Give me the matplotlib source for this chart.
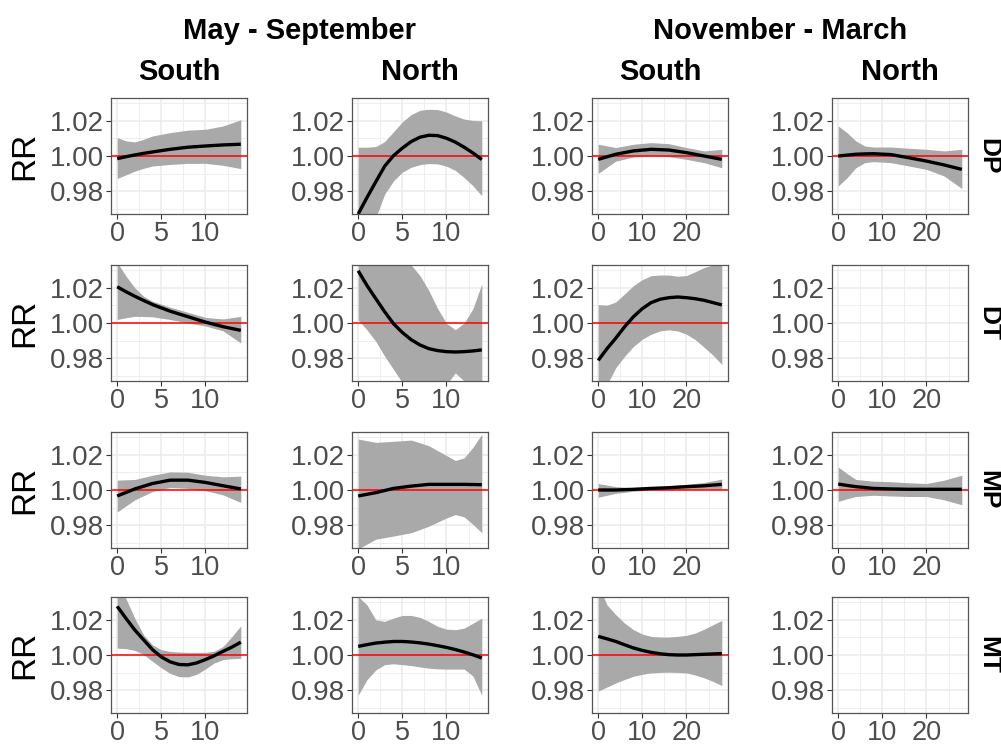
import matplotlib
matplotlib.use("Agg")
import matplotlib.pyplot as plt
from matplotlib.ticker import FixedLocator

plt.rcParams['font.family'] = ['Liberation Sans', 'DejaVu Sans']

# ---------------- data ----------------
seasons = ["May - September", "November - March"]
regions = ["South", "North"]
variables = ["DP", "DT", "MP", "MT"]
ms_xticks = [0, 5, 10]
nm_xticks = [0, 10, 20]
y_ticks = [0.98, 1.00, 1.02]
y_tick_labels = ["0.98", "1.00", "1.02"]

# DP, May-Sep, South
dp_ms_s_x = [0, 1, 2, 3, 4, 6, 8, 10, 12, 14]
dp_ms_s_fit = [0.9985, 0.9996, 1.0006, 1.0015, 1.0023, 1.0038, 1.0050, 1.0057, 1.0063, 1.0067]
dp_ms_s_hi = [1.0105, 1.0086, 1.0080, 1.0095, 1.0114, 1.0133, 1.0147, 1.0152, 1.0171, 1.0206]
dp_ms_s_lo = [0.9872, 0.9893, 0.9914, 0.9930, 0.9943, 0.9952, 0.9958, 0.9958, 0.9947, 0.9928]

# DP, May-Sep, North
dp_ms_n_x = [0, 1, 2, 3, 4, 5, 6, 7, 8, 9, 10, 11, 12, 13, 14]
dp_ms_n_fit = [0.9670, 0.9764, 0.9854, 0.9942, 1.0002, 1.0045, 1.0082, 1.0107, 1.0118, 1.0116, 1.0101, 1.0079, 1.0050, 1.0017, 0.9980]
dp_ms_n_hi = [1.0050, 1.0050, 1.0054, 1.0082, 1.0138, 1.0194, 1.0236, 1.0260, 1.0266, 1.0264, 1.0250, 1.0228, 1.0210, 1.0202, 1.0200]
dp_ms_n_lo = [0.9440, 0.9550, 0.9650, 0.9783, 0.9858, 0.9908, 0.9936, 0.9951, 0.9957, 0.9955, 0.9942, 0.9918, 0.9877, 0.9830, 0.9774]

# DP, Nov-Mar, South
dp_nm_s_x = [0, 4, 8, 12, 16, 20, 24, 28]
dp_nm_s_fit = [0.9981, 1.0010, 1.0029, 1.0038, 1.0034, 1.0019, 1.0000, 0.9981]
dp_nm_s_hi = [1.0067, 1.0048, 1.0067, 1.0076, 1.0070, 1.0048, 1.0029, 1.0038]
dp_nm_s_lo = [0.9901, 0.9971, 0.9994, 1.0000, 0.9996, 0.9981, 0.9962, 0.9933]

# DP, Nov-Mar, North
dp_nm_n_x = [0, 2, 4, 6, 8, 12, 16, 20, 24, 28]
dp_nm_n_fit = [1.0000, 1.0005, 1.0010, 1.0012, 1.0013, 1.0008, 0.9990, 0.9971, 0.9949, 0.9924]
dp_nm_n_hi = [1.0171, 1.0133, 1.0086, 1.0057, 1.0051, 1.0051, 1.0044, 1.0038, 1.0029, 1.0038]
dp_nm_n_lo = [0.9829, 0.9876, 0.9933, 0.9962, 0.9968, 0.9962, 0.9943, 0.9924, 0.9886, 0.9815]

# DT, May-Sep, South
dt_ms_s_x = [0, 1, 2, 3, 4, 6, 8, 10, 12, 14]
dt_ms_s_fit = [1.0206, 1.0178, 1.0152, 1.0128, 1.0105, 1.0067, 1.0036, 1.0005, 0.9979, 0.9958]
dt_ms_s_hi = [1.0345, 1.0267, 1.0200, 1.0152, 1.0124, 1.0090, 1.0061, 1.0032, 1.0023, 1.0038]
dt_ms_s_lo = [1.0020, 1.0030, 1.0038, 1.0037, 1.0035, 1.0020, 1.0000, 0.9983, 0.9955, 0.9886]

# DT, May-Sep, North
dt_ms_n_x = [0, 1, 2, 3, 4, 5, 6, 7, 8, 9, 10, 11, 12, 13, 14]
dt_ms_n_fit = [1.0297, 1.0213, 1.0138, 1.0064, 0.9996, 0.9946, 0.9905, 0.9875, 0.9854, 0.9843, 0.9837, 0.9835, 0.9837, 0.9841, 0.9847]
dt_ms_n_hi = [1.0400, 1.0420, 1.0430, 1.0430, 1.0410, 1.0370, 1.0330, 1.0269, 1.0185, 1.0082, 0.9998, 0.9962, 1.0000, 1.0082, 1.0223]
dt_ms_n_lo = [1.0017, 0.9961, 0.9895, 0.9811, 0.9736, 0.9660, 0.9580, 0.9530, 0.9520, 0.9570, 0.9650, 0.9716, 0.9670, 0.9580, 0.9470]

# DT, Nov-Mar, South
dt_nm_s_x = [0, 2, 4, 6, 8, 10, 12, 14, 16, 18, 20, 22, 24, 26, 28]
dt_nm_s_fit = [0.9787, 0.9854, 0.9914, 0.9979, 1.0036, 1.0082, 1.0116, 1.0135, 1.0144, 1.0148, 1.0144, 1.0138, 1.0129, 1.0116, 1.0103]
dt_nm_s_hi = [1.0105, 1.0101, 1.0120, 1.0166, 1.0213, 1.0247, 1.0269, 1.0273, 1.0273, 1.0266, 1.0270, 1.0292, 1.0316, 1.0330, 1.0344]
dt_nm_s_lo = [0.9550, 0.9650, 0.9746, 0.9811, 0.9867, 0.9908, 0.9936, 0.9955, 0.9961, 0.9955, 0.9936, 0.9905, 0.9862, 0.9817, 0.9764]

# MP, May-Sep, South
mp_ms_s_x = [0, 2, 4, 6, 8, 10, 12, 14]
mp_ms_s_fit = [0.9966, 1.0006, 1.0037, 1.0056, 1.0056, 1.0043, 1.0024, 1.0006]
mp_ms_s_hi = [1.0056, 1.0060, 1.0084, 1.0103, 1.0101, 1.0084, 1.0075, 1.0079]
mp_ms_s_lo = [0.9875, 0.9944, 0.9991, 1.0015, 1.0009, 0.9996, 0.9972, 0.9929]

# MP, May-Sep, North
mp_ms_n_x = [0, 2, 4, 6, 8, 10, 11, 12, 13, 14]
mp_ms_n_fit = [0.9966, 0.9985, 1.0009, 1.0022, 1.0032, 1.0032, 1.0032, 1.0032, 1.0031, 1.0030]
mp_ms_n_hi = [1.0290, 1.0271, 1.0277, 1.0284, 1.0252, 1.0196, 1.0168, 1.0183, 1.0243, 1.0318]
mp_ms_n_lo = [0.9665, 0.9720, 0.9738, 0.9757, 0.9794, 0.9841, 0.9860, 0.9847, 0.9804, 0.9757]

# MP, Nov-Mar, South
mp_nm_s_x = [0, 4, 8, 12, 16, 20, 24, 28]
mp_nm_s_fit = [1.0000, 1.0000, 1.0004, 1.0009, 1.0013, 1.0019, 1.0024, 1.0032]
mp_nm_s_hi = [1.0037, 1.0019, 1.0013, 1.0013, 1.0024, 1.0032, 1.0043, 1.0062]
mp_nm_s_lo = [0.9959, 0.9981, 0.9993, 1.0000, 1.0000, 1.0004, 1.0006, 1.0004]

# MP, Nov-Mar, North
mp_nm_n_x = [0, 2, 4, 8, 12, 16, 20, 24, 28]
mp_nm_n_fit = [1.0034, 1.0026, 1.0019, 1.0009, 1.0006, 1.0004, 1.0004, 1.0004, 1.0004]
mp_nm_n_hi = [1.0131, 1.0094, 1.0060, 1.0050, 1.0047, 1.0041, 1.0037, 1.0056, 1.0084]
mp_nm_n_lo = [0.9935, 0.9950, 0.9963, 0.9970, 0.9966, 0.9963, 0.9963, 0.9944, 0.9916]

# MT, May-Sep, South
mt_ms_s_x = [0, 1, 2, 3, 4, 5, 6, 7, 8, 9, 10, 11, 12, 13, 14]
mt_ms_s_fit = [1.0277, 1.0208, 1.0142, 1.0086, 1.0030, 0.9989, 0.9961, 0.9946, 0.9944, 0.9955, 0.9974, 0.9996, 1.0021, 1.0045, 1.0073]
mt_ms_s_hi = [1.0400, 1.0320, 1.0208, 1.0114, 1.0058, 1.0030, 1.0020, 1.0017, 1.0015, 1.0015, 1.0015, 1.0022, 1.0049, 1.0105, 1.0166]
mt_ms_s_lo = [1.0039, 1.0036, 1.0026, 1.0002, 0.9964, 0.9927, 0.9895, 0.9877, 0.9875, 0.9890, 0.9921, 0.9955, 0.9974, 0.9979, 0.9981]

# MT, May-Sep, North
mt_ms_n_x = [0, 1, 2, 3, 4, 5, 6, 7, 8, 9, 10, 11, 12, 13, 14]
mt_ms_n_fit = [1.0049, 1.0059, 1.0068, 1.0073, 1.0077, 1.0077, 1.0074, 1.0069, 1.0062, 1.0053, 1.0043, 1.0031, 1.0017, 1.0001, 0.9983]
mt_ms_n_hi = [1.0333, 1.0285, 1.0200, 1.0191, 1.0210, 1.0225, 1.0225, 1.0214, 1.0191, 1.0163, 1.0147, 1.0144, 1.0153, 1.0181, 1.0210]
mt_ms_n_lo = [0.9771, 0.9860, 0.9915, 0.9945, 0.9950, 0.9945, 0.9940, 0.9932, 0.9925, 0.9921, 0.9920, 0.9920, 0.9920, 0.9880, 0.9770]

# MT, Nov-Mar, South
mt_nm_s_x = [0, 2, 4, 6, 8, 10, 12, 14, 16, 18, 20, 22, 24, 26, 28]
mt_nm_s_fit = [1.0106, 1.0092, 1.0077, 1.0058, 1.0040, 1.0026, 1.0015, 1.0007, 1.0002, 1.0000, 1.0000, 1.0002, 1.0004, 1.0006, 1.0008]
mt_nm_s_hi = [1.0400, 1.0285, 1.0229, 1.0181, 1.0144, 1.0119, 1.0106, 1.0102, 1.0102, 1.0106, 1.0112, 1.0125, 1.0147, 1.0172, 1.0197]
mt_nm_s_lo = [0.9794, 0.9818, 0.9841, 0.9861, 0.9879, 0.9890, 0.9898, 0.9901, 0.9902, 0.9901, 0.9898, 0.9886, 0.9870, 0.9850, 0.9826]

panels = {
    ("DP", 0): (dp_ms_s_x, dp_ms_s_fit, dp_ms_s_lo, dp_ms_s_hi),
    ("DP", 1): (dp_ms_n_x, dp_ms_n_fit, dp_ms_n_lo, dp_ms_n_hi),
    ("DP", 2): (dp_nm_s_x, dp_nm_s_fit, dp_nm_s_lo, dp_nm_s_hi),
    ("DP", 3): (dp_nm_n_x, dp_nm_n_fit, dp_nm_n_lo, dp_nm_n_hi),
    ("DT", 0): (dt_ms_s_x, dt_ms_s_fit, dt_ms_s_lo, dt_ms_s_hi),
    ("DT", 1): (dt_ms_n_x, dt_ms_n_fit, dt_ms_n_lo, dt_ms_n_hi),
    ("DT", 2): (dt_nm_s_x, dt_nm_s_fit, dt_nm_s_lo, dt_nm_s_hi),
    ("MP", 0): (mp_ms_s_x, mp_ms_s_fit, mp_ms_s_lo, mp_ms_s_hi),
    ("MP", 1): (mp_ms_n_x, mp_ms_n_fit, mp_ms_n_lo, mp_ms_n_hi),
    ("MP", 2): (mp_nm_s_x, mp_nm_s_fit, mp_nm_s_lo, mp_nm_s_hi),
    ("MP", 3): (mp_nm_n_x, mp_nm_n_fit, mp_nm_n_lo, mp_nm_n_hi),
    ("MT", 0): (mt_ms_s_x, mt_ms_s_fit, mt_ms_s_lo, mt_ms_s_hi),
    ("MT", 1): (mt_ms_n_x, mt_ms_n_fit, mt_ms_n_lo, mt_ms_n_hi),
    ("MT", 2): (mt_nm_s_x, mt_nm_s_fit, mt_nm_s_lo, mt_nm_s_hi),
}

# ---------------- layout ----------------
W, H = 1001, 746
fig = plt.figure(figsize=(W / 100, H / 100), dpi=100)
col_left = [111, 352, 592, 832]
row_top = [98, 265, 432, 597]
pw, ph = 136, 116

tick_color = "#4D4D4D"
grid_color = "#EBEBEB"

for r, var in enumerate(variables):
    for c in range(4):
        ax = fig.add_axes([col_left[c] / W, 1 - (row_top[r] + ph) / H, pw / W, ph / H])
        ms = c < 2
        if ms:
            ax.set_xlim(-0.7, 14.7)
            ax.xaxis.set_major_locator(FixedLocator(ms_xticks))
            ax.xaxis.set_minor_locator(FixedLocator([2.5, 7.5, 12.5]))
        else:
            ax.set_xlim(-1.4, 29.4)
            ax.xaxis.set_major_locator(FixedLocator(nm_xticks))
            ax.xaxis.set_minor_locator(FixedLocator([5, 15, 25]))
        ax.set_ylim(0.967, 1.033)
        ax.yaxis.set_major_locator(FixedLocator(y_ticks))
        ax.set_yticklabels(y_tick_labels)
        ax.yaxis.set_minor_locator(FixedLocator([0.97, 0.99, 1.01, 1.03]))
        ax.grid(True, which="major", color=grid_color, lw=1.1, zorder=0)
        ax.grid(True, which="minor", color=grid_color, lw=0.6, zorder=0)
        ax.set_axisbelow(True)
        ax.tick_params(which="major", length=3.5, width=0.8, color="#333333",
                       labelsize=20, labelcolor=tick_color)
        ax.tick_params(axis="x", labelsize=19.5, pad=1.2)
        ax.tick_params(axis="y", pad=1.5)
        ax.tick_params(which="minor", length=0)
        for s in ax.spines.values():
            s.set_color("#555555")
            s.set_linewidth(0.9)
        key = (var, c)
        if key in panels:
            x, fit, lo, hi = panels[key]
            ax.fill_between(x, lo, hi, color="#A9A9A9", lw=0, zorder=2)
            ax.axhline(1.0, color="#FF0000", lw=1.1, zorder=3)
            ax.plot(x, fit, color="black", lw=2.4, zorder=4, solid_capstyle="butt")
        if c == 0:
            fig.text(25 / W, 1 - (row_top[r] + ph / 2) / H, "RR", rotation=90,
                     ha="center", va="center", fontsize=24)
        if c == 3:
            ax.text(1.0 + 20 / pw, 0.5, var, transform=ax.transAxes, rotation=-90,
                    ha="center", va="center", fontsize=19, fontweight="bold")

# column strip labels
for c in range(4):
    fig.text((col_left[c] + pw / 2) / W, 1 - 72 / H, regions[c % 2],
             ha="center", va="center", fontsize=21, fontweight="bold")
fig.text((col_left[0] + col_left[1] + pw) / 2 / W, 1 - 31 / H, seasons[0],
         ha="center", va="center", fontsize=21, fontweight="bold")
fig.text((col_left[2] + col_left[3] + pw) / 2 / W, 1 - 31 / H, seasons[1],
         ha="center", va="center", fontsize=21, fontweight="bold")

fig.savefig("out.png", dpi=100, facecolor="white")
